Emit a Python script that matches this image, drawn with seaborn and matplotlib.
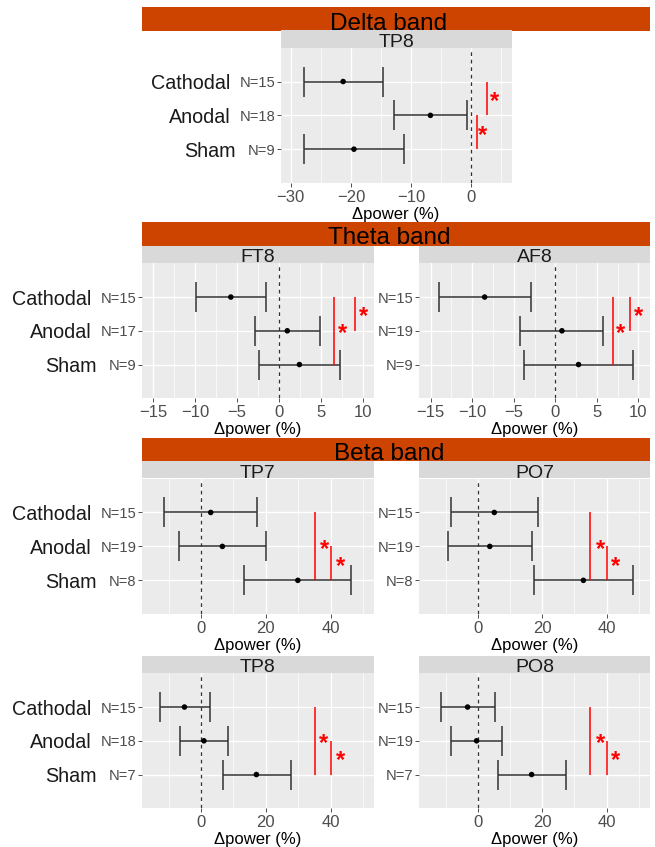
import numpy as np
import pandas as pd
import matplotlib
matplotlib.use("Agg")
import matplotlib.pyplot as plt
import matplotlib.transforms as mtrans
from matplotlib.patches import Rectangle
from matplotlib.ticker import MultipleLocator, FixedLocator
import seaborn as sns

# ---------------- data ----------------
groups = ["Cathodal", "Anodal", "Sham"]

# Delta band, TP8
delta_tp8_low = [-27.8, -12.9, -27.8]
delta_tp8_mean = [-21.3, -6.8, -19.5]
delta_tp8_high = [-14.7, -0.7, -11.2]
delta_tp8_n = [15, 18, 9]

# Theta band, FT8 / AF8
theta_ft8_low = [-9.9, -2.9, -2.4]
theta_ft8_mean = [-5.75, 1.0, 2.45]
theta_ft8_high = [-1.5, 4.95, 7.3]
theta_ft8_n = [15, 17, 9]

theta_af8_low = [-14.0, -4.2, -3.75]
theta_af8_mean = [-8.5, 0.8, 2.8]
theta_af8_high = [-2.9, 5.8, 9.4]
theta_af8_n = [15, 19, 9]

# Beta band, TP7 / PO7 / TP8 / PO8
beta_tp7_low = [-11.3, -6.8, 13.3]
beta_tp7_mean = [3.0, 6.6, 29.9]
beta_tp7_high = [17.3, 20.2, 46.4]
beta_tp7_n = [15, 19, 8]

beta_po7_low = [-8.4, -9.2, 17.4]
beta_po7_mean = [5.1, 3.7, 32.8]
beta_po7_high = [18.8, 16.7, 48.3]
beta_po7_n = [15, 19, 8]

beta_tp8_low = [-12.8, -6.4, 6.7]
beta_tp8_mean = [-5.1, 0.9, 17.1]
beta_tp8_high = [2.8, 8.2, 27.7]
beta_tp8_n = [15, 18, 7]

beta_po8_low = [-11.5, -8.2, 6.2]
beta_po8_mean = [-3.2, -0.4, 16.7]
beta_po8_high = [5.2, 7.5, 27.4]
beta_po8_n = [15, 19, 7]

# significance brackets: (x, from group index, to group index)
delta_tp8_sig = [(2.6, 0, 1), (1.0, 1, 2)]
theta_ft8_sig = [(6.55, 0, 2), (9.1, 0, 1)]
theta_af8_sig = [(6.95, 0, 2), (9.0, 0, 1)]
beta_tp7_sig = [(35.3, 0, 2), (40.0, 1, 2)]
beta_po7_sig = [(35.0, 0, 2), (40.0, 1, 2)]
beta_tp8_sig = [(35.2, 0, 2), (40.0, 1, 2)]
beta_po8_sig = [(35.0, 0, 2), (40.0, 1, 2)]

# star positions (x, y in group-index units)
delta_tp8_star = [(3.9, 0.37), (1.9, 1.37)]
theta_ft8_star = [(7.55, 0.85), (10.1, 0.36)]
theta_af8_star = [(7.9, 0.85), (10.0, 0.35)]
beta_tp7_star = [(38.2, 0.87), (43.0, 1.36)]
beta_po7_star = [(38.0, 0.87), (42.9, 1.36)]
beta_tp8_star = [(37.9, 0.85), (43.0, 1.36)]
beta_po8_star = [(38.0, 0.85), (42.9, 1.36)]

bands = ["Delta band", "Theta band", "Beta band"]

# ---------------- style ----------------
sns.set_theme(style="darkgrid", rc={
    "axes.facecolor": "#EBEBEB",
    "grid.color": "white",
})
plt.rcParams['font.family'] = ['Liberation Sans', 'DejaVu Sans']

W, H = 655, 847
fig = plt.figure(figsize=(W / 100, H / 100), dpi=100)
fig.patch.set_facecolor("white")

ORANGE = "#CC4400"
STRIP = "#D9D9D9"

def fx(px):
    return px / W

def fy(py):
    return 1 - py / H

def add_rect(x0, y0, x1, y1, color):
    fig.add_artist(Rectangle((fx(x0), fy(y1)), (x1 - x0) / W, (y1 - y0) / H,
                             transform=fig.transFigure, facecolor=color,
                             edgecolor="none", zorder=0))

# band header bars (pixel layout)
band_bars = [(7.3, 31.0), (221.7, 245.7), (437.7, 461.0)]
for name, (y0, y1) in zip(bands, band_bars):
    add_rect(141.7, y0, 650, y1, ORANGE)
    fig.text(fx(389), fy(y1 - 1.5), name, ha="center", va="baseline",
             fontsize=17.5, color="black")

LEFT = (141.7, 374.3)
RIGHT = (419.0, 650.0)

panels = [
    dict(title="TP8", low=delta_tp8_low, mean=delta_tp8_mean, high=delta_tp8_high,
         n=delta_tp8_n, sig=delta_tp8_sig, star=delta_tp8_star,
         xs=(280.5, 511.7), ys=(47.7, 183.0), xlim=(-31.7, 6.7), major=10, minor=5,
         labels=True, sham_shift=True),
    dict(title="FT8", low=theta_ft8_low, mean=theta_ft8_mean, high=theta_ft8_high,
         n=theta_ft8_n, sig=theta_ft8_sig, star=theta_ft8_star,
         xs=LEFT, ys=(263.3, 398.3), xlim=(-16.4, 11.4), major=5, minor=2.5,
         labels=True),
    dict(title="AF8", low=theta_af8_low, mean=theta_af8_mean, high=theta_af8_high,
         n=theta_af8_n, sig=theta_af8_sig, star=theta_af8_star,
         xs=RIGHT, ys=(263.3, 398.3), xlim=(-16.4, 11.4), major=5, minor=2.5,
         labels=False),
    dict(title="TP7", low=beta_tp7_low, mean=beta_tp7_mean, high=beta_tp7_high,
         n=beta_tp7_n, sig=beta_tp7_sig, star=beta_tp7_star,
         xs=LEFT, ys=(478.5, 614.3), xlim=(-18.3, 53.5), major=20, minor=10,
         labels=True),
    dict(title="PO7", low=beta_po7_low, mean=beta_po7_mean, high=beta_po7_high,
         n=beta_po7_n, sig=beta_po7_sig, star=beta_po7_star,
         xs=RIGHT, ys=(478.5, 614.3), xlim=(-18.3, 53.5), major=20, minor=10,
         labels=False),
    dict(title="TP8", low=beta_tp8_low, mean=beta_tp8_mean, high=beta_tp8_high,
         n=beta_tp8_n, sig=beta_tp8_sig, star=beta_tp8_star,
         xs=LEFT, ys=(673.3, 808.3), xlim=(-18.3, 53.5), major=20, minor=10,
         labels=True),
    dict(title="PO8", low=beta_po8_low, mean=beta_po8_mean, high=beta_po8_high,
         n=beta_po8_n, sig=beta_po8_sig, star=beta_po8_star,
         xs=RIGHT, ys=(673.3, 808.3), xlim=(-18.3, 53.5), major=20, minor=10,
         labels=False),
]

for p in panels:
    x0, x1 = p["xs"]
    y0, y1 = p["ys"]
    ax = fig.add_axes([fx(x0), fy(y1), (x1 - x0) / W, (y1 - y0) / H])
    df = pd.DataFrame({"group": groups, "pos": np.arange(len(groups)),
                       "low": p["low"], "mean": p["mean"], "high": p["high"]})

    ax.set_xlim(*p["xlim"])
    ax.set_ylim(len(groups), -1)
    ax.xaxis.set_major_locator(MultipleLocator(p["major"]))
    ax.xaxis.set_minor_locator(MultipleLocator(p["minor"]))
    ax.yaxis.set_major_locator(FixedLocator(df["pos"]))
    ax.set_yticklabels([f"N={v}" for v in p["n"]])
    ax.grid(which="major", color="white", lw=1.0)
    ax.grid(which="minor", axis="x", color="white", lw=0.5)
    for s in ax.spines.values():
        s.set_visible(False)
    ax.tick_params(axis="both", which="major", length=2.75, width=0.6,
                   color="#333333", labelcolor="#4D4D4D")
    ax.tick_params(axis="x", which="major", labelsize=12, pad=2.0, bottom=True)
    ax.tick_params(axis="y", which="major", labelsize=10.6, pad=1.2, left=True)
    ax.tick_params(which="minor", length=0)
    # minus sign like in R
    ax.set_xlabel("\u0394power (%)", fontsize=12, color="black", labelpad=1.5)
    ax.set_ylabel("")

    ax.axvline(0, color="#333333", lw=0.9, ls=(0, (3, 3)), zorder=2)

    ax.errorbar(df["mean"], df["pos"],
                xerr=[df["mean"] - df["low"], df["high"] - df["mean"]],
                fmt="none", ecolor="#333333", elinewidth=1.1, capsize=10.5,
                capthick=1.1, zorder=3)
    sns.scatterplot(data=df, x="mean", y="pos", ax=ax, color="black", s=16,
                    edgecolor="none", legend=False, zorder=4)
    ax.set_xlabel("\u0394power (%)", fontsize=12, color="black", labelpad=1.5)
    ax.set_ylabel("")

    for xv, g0, g1 in p["sig"]:
        ax.vlines(xv, g0, g1, color="red", lw=1.1, zorder=3)
    star_tr = mtrans.offset_copy(ax.transData, fig=fig, x=0, y=-5, units="dots")
    for sx, sy in p["star"]:
        ax.text(sx, sy, "*", color="red", fontsize=17, fontweight="bold",
                ha="center", va="center_baseline", transform=star_tr,
                clip_on=False)

    # strip
    add_rect(x0, y0 - 17.3, x1, y0, STRIP)
    fig.text(fx((x0 + x1) / 2), fy(y0 - 1.0), p["title"], ha="center",
             va="baseline", fontsize=14, color="#1A1A1A")

    # group labels
    if p["labels"]:
        ytr = ax.get_yaxis_transform()
        for i, g in enumerate(groups):
            shift = -45 if g == "Sham" else -50
            tr = mtrans.offset_copy(ytr, fig=fig, x=shift, y=0, units="dots")
            ax.text(0, i, g, transform=tr, ha="right", va="center_baseline",
                    fontsize=14.2, color="#1A1A1A", clip_on=False)

fig.savefig("out.png", dpi=100)
